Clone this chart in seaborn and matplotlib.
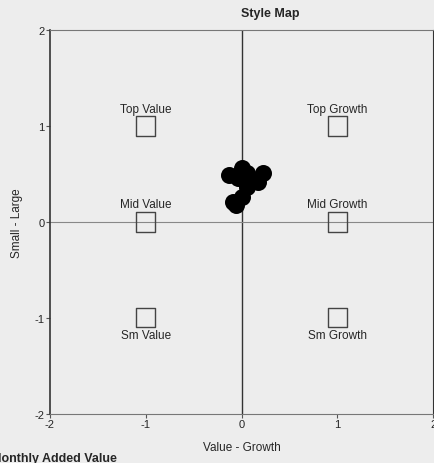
import pandas as pd
import seaborn as sns
import matplotlib.pyplot as plt

# style boxes (value-growth, small-large)
box_names = ["Top Value", "Mid Value", "Sm Value", "Top Growth", "Mid Growth", "Sm Growth"]
box_x = [-1, -1, -1, 1, 1, 1]
box_y = [1, 0, -1, 1, 0, -1]

# fund style points
pt_x = [-0.13, 0.0, 0.06, 0.22, 0.17, 0.06, 0.0, -0.09, -0.04, -0.06]
pt_y = [0.49, 0.56, 0.51, 0.51, 0.42, 0.36, 0.26, 0.21, 0.46, 0.18]

ticks = [-2, -1, 0, 1, 2]

boxes = pd.DataFrame({"name": box_names, "x": box_x, "y": box_y})
pts = pd.DataFrame({"x": pt_x, "y": pt_y})

sns.set_style("white")
plt.rcParams['font.family'] = ['Liberation Sans', 'DejaVu Sans']
plt.rcParams['axes.unicode_minus'] = False

fig = plt.figure(figsize=(4.34, 4.64), dpi=100, facecolor='#ededed')
ax = fig.add_axes([0.115, 0.106, 0.883, 0.827])
ax.set_facecolor('#ededed')

ax.axvline(0, color='#333333', lw=1.0, zorder=1)
ax.axhline(0, color='#888888', lw=0.8, zorder=1)

sns.scatterplot(data=boxes, x="x", y="y", marker='s', s=190, facecolor='none',
                edgecolor='#444444', linewidth=1.0, ax=ax, zorder=2)
sns.scatterplot(data=pts, x="x", y="y", color='black', s=150, edgecolor='black',
                linewidth=0, ax=ax, zorder=3)

for _, r in boxes.iterrows():
    if r["y"] < 0:
        ax.text(r["x"], r["y"] - 0.12, r["name"], ha='center', va='top', fontsize=8.5)
    else:
        ax.text(r["x"], r["y"] + 0.12, r["name"], ha='center', va='bottom', fontsize=8.5)

ax.set_xlim(-2, 2)
ax.set_ylim(-2, 2)
ax.set_xticks(ticks)
ax.set_yticks(ticks)
ax.tick_params(axis='both', length=3, width=0.8, color='#555555', labelsize=8, pad=1, direction='out')
ax.tick_params(axis='both', which='both', bottom=True, left=True)
ax.set_xlabel("Value - Growth", fontsize=8.5)
ax.set_ylabel("Small - Large", fontsize=8.5)
ax.xaxis.set_label_coords(0.5, -0.07)
ax.yaxis.set_label_coords(-0.07, 0.5)

ax.spines['left'].set_color('#333333')
ax.spines['left'].set_linewidth(1.2)
ax.spines['top'].set_color('#777777')
ax.spines['bottom'].set_color('#777777')
ax.spines['right'].set_color('#333333')
for s in ax.spines.values():
    s.set_visible(True)

fig.text(270 / 434, 1 - 14 / 464, "Style Map", ha='center', va='center',
         fontsize=9, fontweight='bold')
fig.text(-0.02, 1 - 459 / 464, "Monthly Added Value", ha='left', va='center',
         fontsize=9, fontweight='bold')

fig.savefig("out.png", dpi=100, facecolor=fig.get_facecolor())
